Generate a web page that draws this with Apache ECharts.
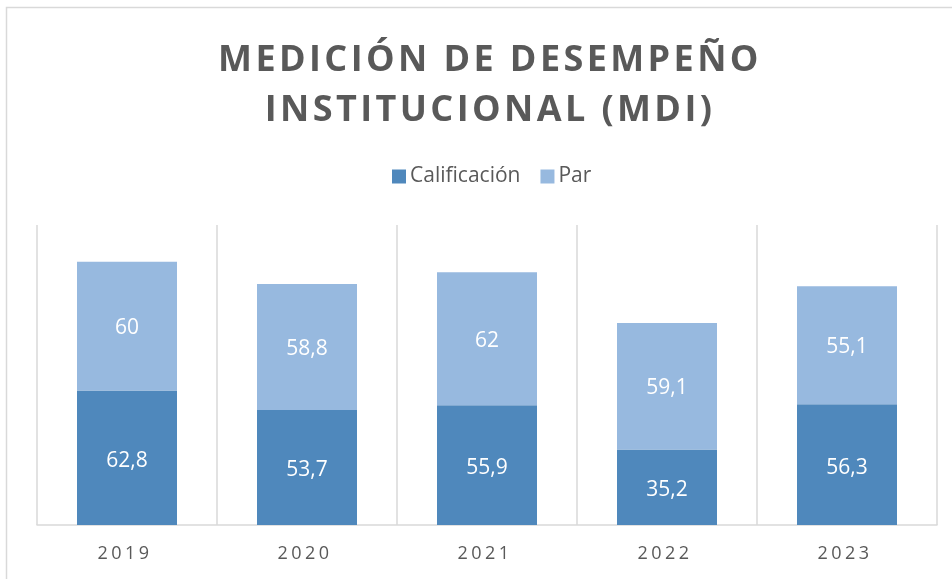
<!DOCTYPE html>
<html>
<head>
<meta charset="utf-8">
<script src="https://cdn.jsdelivr.net/npm/echarts@6/dist/echarts.min.js"></script>
<style>html,body{margin:0;padding:0;background:#fff}#c{width:952px;height:579px}</style>
</head>
<body>
<div id="c"></div>
<script>
var categories = ['2019', '2020', '2021', '2022', '2023'];
var calificacion = [62.8, 53.7, 55.9, 35.2, 56.3];
var par = [60, 58.8, 62, 59.1, 55.1];
var seriesNames = ['Calificación', 'Par'];

// letter spacing for title and axis labels (identified by their font size)
(function () {
  var P = CanvasRenderingContext2D.prototype;
  if (!('letterSpacing' in P)) return;
  function spacing(ctx) {
    var f = ctx.font || '';
    if (f.indexOf('36px') >= 0) return '3.4px';
    if (f.indexOf('18px') >= 0) return '3.5px';
    return '0px';
  }
  var ft = P.fillText, mt = P.measureText;
  P.fillText = function () { this.letterSpacing = spacing(this); return ft.apply(this, arguments); };
  P.measureText = function () { this.letterSpacing = spacing(this); return mt.apply(this, arguments); };
})();

var chart = echarts.init(document.getElementById('c'), null, {renderer: 'canvas'});
var fmt = function (p) { return String(p.value).replace('.', ','); };
var font = '"Open Sans", "Noto Sans", sans-serif';
chart.setOption({
  animation: false,
  backgroundColor: '#fff',
  graphic: [{
    type: 'rect', silent: true, z: -10,
    shape: {x: 6.5, y: 7.5, width: 960, height: 600},
    style: {fill: 'none', stroke: '#d9d9d9', lineWidth: 1.5}
  }],
  title: {
    text: 'MEDICIÓN DE DESEMPEÑO\nINSTITUCIONAL (MDI)',
    left: 485, top: 31, textAlign: 'center',
    textStyle: {fontFamily: font, fontWeight: 'bold', fontSize: 36, color: '#595959', lineHeight: 50}
  },
  legend: {
    top: 161, left: 387,
    itemWidth: 14, itemHeight: 14, itemGap: 20,
    icon: 'rect',
    textStyle: {fontFamily: font, fontSize: 21, color: '#595959', padding: [0, 0, 0, -1]},
    data: seriesNames
  },
  grid: {left: 37, right: 15, top: 225, bottom: 54},
  xAxis: {
    type: 'category', data: categories,
    axisLine: {lineStyle: {color: '#d9d9d9', width: 1.5}},
    axisTick: {show: false},
    splitLine: {show: true, lineStyle: {color: '#d9d9d9', width: 1.5}},
    axisLabel: {fontFamily: font, fontSize: 18, color: '#595959', margin: 18, padding: [0, 4, 0, 0]}
  },
  yAxis: {type: 'value', min: 0, max: 140, show: false, splitLine: {show: false}},
  series: [{
    name: seriesNames[0], type: 'bar', stack: 'a', data: calificacion, barWidth: 100,
    itemStyle: {color: '#4f88bc'},
    label: {show: true, position: 'inside', formatter: fmt, color: '#fff', fontFamily: font, fontSize: 21, offset: [0, 3]}
  }, {
    name: seriesNames[1], type: 'bar', stack: 'a', data: par, barWidth: 100,
    itemStyle: {color: '#97b9df'},
    label: {show: true, position: 'inside', formatter: fmt, color: '#fff', fontFamily: font, fontSize: 21, offset: [0, 2]}
  }]
});
</script>
</body>
</html>
